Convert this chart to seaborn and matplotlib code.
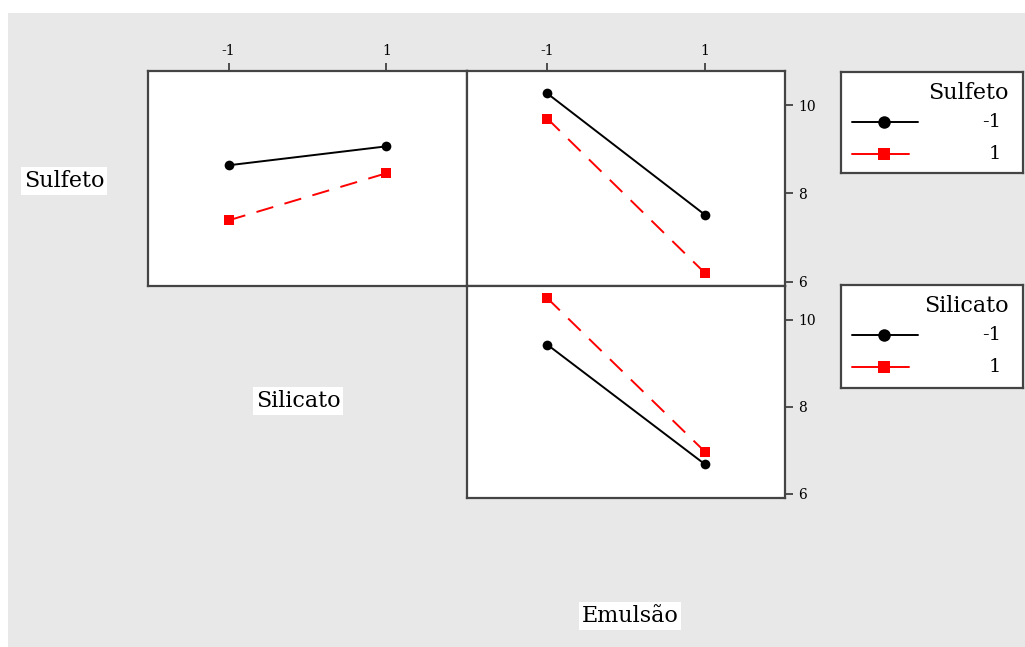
import matplotlib
matplotlib.use("Agg")
import matplotlib.pyplot as plt
import matplotlib.patches as mpatches
from matplotlib.lines import Line2D
import pandas as pd
import seaborn as sns

# Factor levels
levels = [-1, 1]

# Mean response for each two-factor combination
# Sulfeto (lines) by Silicato (x)
sulf_by_silic_neg = [8.64, 9.07]   # Sulfeto = -1
sulf_by_silic_pos = [7.39, 8.46]   # Sulfeto = 1
# Sulfeto (lines) by Emulsão (x)
sulf_by_emul_neg = [10.27, 7.52]
sulf_by_emul_pos = [9.70, 6.20]
# Silicato (lines) by Emulsão (x)
silic_by_emul_neg = [9.43, 6.68]
silic_by_emul_pos = [10.50, 6.97]

y_ticks = [6, 8, 10]
y_range = (5.9, 10.78)
x_range = (-2.02, 2.02)

sns.set_theme(style="white")
plt.rcParams["font.family"] = ["DejaVu Serif"]
plt.rcParams["text.color"] = "black"

W, H = 1025, 647
fig = plt.figure(figsize=(W / 100, H / 100), dpi=100)
fig.patch.set_facecolor("white")
fig.add_artist(mpatches.Rectangle((8 / W, 0), 1 - 8 / W, 1 - 13 / H,
                                  transform=fig.transFigure,
                                  facecolor="#e8e8e8", edgecolor="none", zorder=-10))


def px_axes(x0, y0, x1, y1):
    return fig.add_axes([x0 / W, 1 - y1 / H, (x1 - x0) / W, (y1 - y0) / H])


def make_frame(lo_vals, hi_vals):
    return pd.DataFrame({
        "x": levels * 2,
        "y": list(lo_vals) + list(hi_vals),
        "g": ["-1"] * 2 + ["1"] * 2,
    })


palette = {"-1": "black", "1": "#ff0000"}
markers = {"-1": "o", "1": "s"}
dashes = {"-1": "", "1": (9, 6)}
spine_color = "#444444"


def draw_panel(ax, df):
    sns.lineplot(data=df, x="x", y="y", hue="g", style="g",
                 palette=palette, markers=markers, dashes=dashes,
                 markersize=7, markeredgewidth=0, linewidth=1.4,
                 legend=False, ax=ax)
    ax.set_facecolor("white")
    ax.set_xlim(*x_range)
    ax.set_ylim(*y_range)
    ax.set_xlabel("")
    ax.set_ylabel("")
    for s in ax.spines.values():
        s.set_color(spine_color)
        s.set_linewidth(1.6)
        s.set_visible(True)


ax1 = px_axes(148, 71, 467, 286)
ax2 = px_axes(467, 71, 785, 286)
ax3 = px_axes(467, 286, 785, 498)

draw_panel(ax1, make_frame(sulf_by_silic_neg, sulf_by_silic_pos))
draw_panel(ax2, make_frame(sulf_by_emul_neg, sulf_by_emul_pos))
draw_panel(ax3, make_frame(silic_by_emul_neg, silic_by_emul_pos))

tick_kw = dict(labelsize=10, labelcolor="black", colors="#333333",
               length=6, width=1.2, direction="out")
for ax in (ax1, ax2):
    ax.xaxis.tick_top()
    ax.set_xticks(levels)
    ax.set_xticklabels(["-1", "1"])
    ax.tick_params(axis="x", **tick_kw)
ax3.set_xticks([])

ax1.set_yticks([])
for ax in (ax2, ax3):
    ax.yaxis.tick_right()
    ax.set_yticks(y_ticks)
    ax.set_yticklabels([str(v) for v in y_ticks])
    ax.tick_params(axis="y", **tick_kw)

# Factor names
label_box = dict(boxstyle="square,pad=0.12", facecolor="white", edgecolor="none")
fig.text(64 / W, 1 - 181 / H, "Sulfeto", ha="center", va="center",
         fontsize=16, bbox=label_box)
fig.text(298 / W, 1 - 401 / H, "Silicato", ha="center", va="center",
         fontsize=16, bbox=label_box)
fig.text(630 / W, 1 - 616 / H, "Emulsão", ha="center", va="center",
         fontsize=16, bbox=label_box)


# Legend boxes
def legend_box(y0, y1, title):
    lax = px_axes(841, y0, 1023, y1)
    lax.set_xlim(841, 1023)
    lax.set_ylim(y1, y0)
    lax.set_xticks([])
    lax.set_yticks([])
    lax.set_facecolor("white")
    for s in lax.spines.values():
        s.set_color(spine_color)
        s.set_linewidth(1.6)
    lax.text(1009, y0 + 21, title, ha="right", va="center", fontsize=16)
    ya = y0 + 50
    yb = y0 + 82
    lax.add_line(Line2D([852, 918], [ya, ya], color="black", lw=1.4))
    lax.add_line(Line2D([884], [ya], color="black", marker="o", ms=9, mew=0))
    lax.add_line(Line2D([852, 909], [yb, yb], color="#ff0000", lw=1.4))
    lax.add_line(Line2D([884], [yb], color="#ff0000", marker="s", ms=9, mew=0))
    lax.text(1001, ya, "-1", ha="right", va="center", fontsize=14)
    lax.text(1001, yb, "1", ha="right", va="center", fontsize=14)


legend_box(72, 173, "Sulfeto")
legend_box(285, 388, "Silicato")

fig.savefig("out.png", dpi=100, facecolor=fig.get_facecolor())
